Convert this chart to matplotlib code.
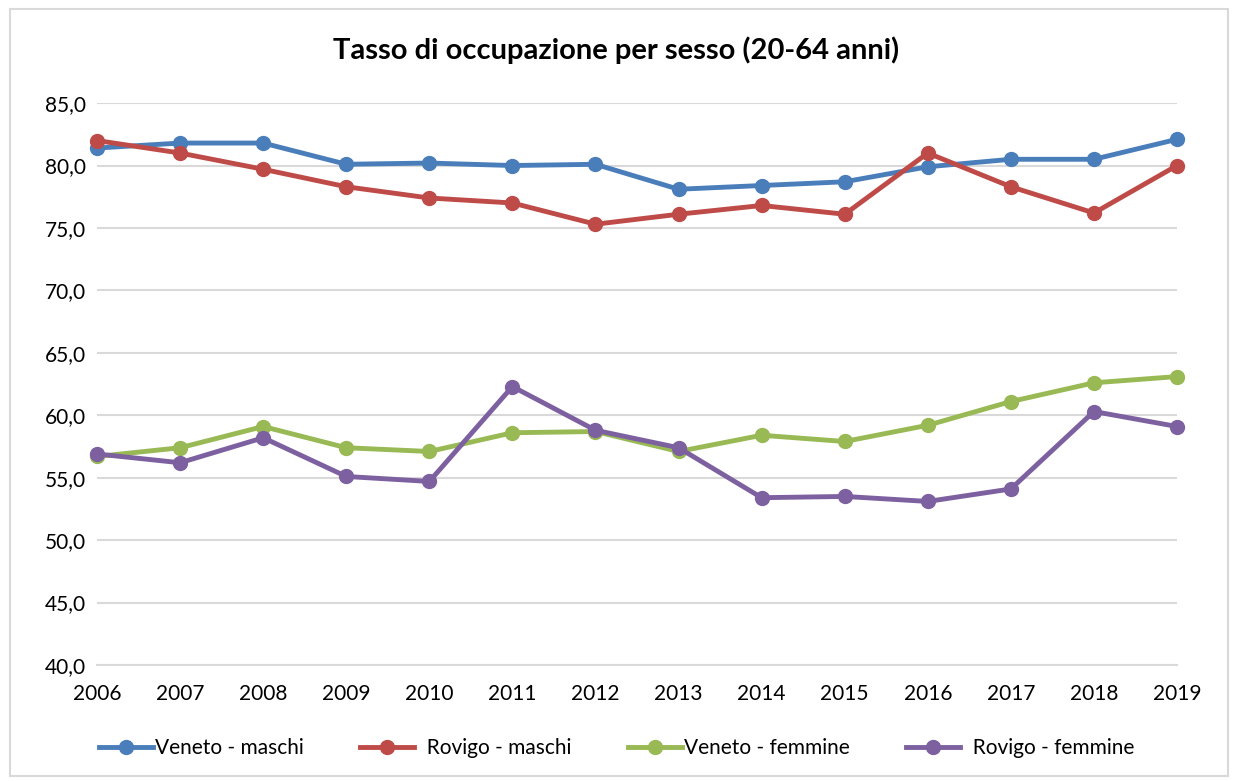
import matplotlib
matplotlib.use('Agg')
import matplotlib.pyplot as plt
from matplotlib.patches import Rectangle

years = list(range(2006, 2020))
veneto_m = [81.4, 81.8, 81.8, 80.1, 80.2, 80.0, 80.1, 78.1, 78.4, 78.7, 79.9, 80.5, 80.5, 82.1]
rovigo_m = [82.0, 81.0, 79.7, 78.3, 77.4, 77.0, 75.3, 76.1, 76.8, 76.1, 81.0, 78.3, 76.2, 80.0]
veneto_f = [56.7, 57.4, 59.1, 57.4, 57.1, 58.6, 58.7, 57.1, 58.4, 57.9, 59.2, 61.1, 62.6, 63.1]
rovigo_f = [56.9, 56.2, 58.2, 55.1, 54.7, 62.3, 58.8, 57.4, 53.4, 53.5, 53.1, 54.1, 60.3, 59.1]
series = [("Veneto - maschi", veneto_m, '#4A7EBB'),
          ("  Rovigo - maschi", rovigo_m, '#BE4B48'),
          ("Veneto - femmine", veneto_f, '#98B954'),
          ("  Rovigo - femmine", rovigo_f, '#7D60A0')]

plt.rcParams['font.family'] = ['Lato', 'DejaVu Sans']
fig = plt.figure(figsize=(12.33, 7.81), dpi=100)
fig.patches.append(Rectangle((0.008, 0.006), 0.988, 0.982, transform=fig.transFigure,
                             fill=False, edgecolor='#D9D9D9', lw=1.5))
ax = fig.add_axes([0.0787, 0.1485, 0.8759, 0.7195])

for name, vals, c in series:
    ax.plot(years, vals, color=c, lw=3.5, marker='o', ms=10, label=name, clip_on=False)

ax.set_xlim(2006, 2019)
ax.set_ylim(40, 85)
ax.set_yticks(range(40, 86, 5))
ax.set_yticklabels([f"{v},0" for v in range(40, 86, 5)])
ax.set_xticks(years)
ax.tick_params(length=0, labelsize=15)
ax.tick_params(axis='y', pad=8)
ax.tick_params(axis='x', pad=14)
ax.grid(axis='y', color='#D9D9D9', lw=1.5)
ax.set_axisbelow(True)
for s in ['top', 'right', 'left']:
    ax.spines[s].set_visible(False)
ax.spines['bottom'].set_color('#D9D9D9')
ax.spines['bottom'].set_linewidth(1.5)

fig.text(0.5, 0.936, "Tasso di occupazione per sesso (20-64 anni)", ha='center', va='center',
         fontsize=21, fontweight='bold')
fig.legend(loc='center', bbox_to_anchor=(0.5, 0.042), ncol=4, frameon=False, fontsize=15,
           handlelength=2.6, columnspacing=2.7, handletextpad=0.1)

fig.savefig('out.png', dpi=100)
